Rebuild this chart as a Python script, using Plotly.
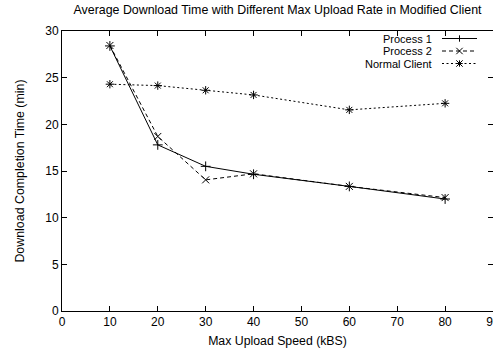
import plotly.graph_objects as go

speeds = [10, 20, 30, 40, 60, 80]
process1 = [28.4, 17.8, 15.5, 14.65, 13.35, 12.0]
process2 = [28.45, 18.7, 14.05, 14.7, 13.35, 12.15]
normal_client = [24.3, 24.15, 23.65, 23.15, 21.55, 22.25]
series_names = ["Process 1", "Process 2", "Normal Client"]

FONT = "Liberation Sans, Arial, Helvetica, sans-serif"
W, H = 493, 354
ML, MR, MT, MB = 62, 0, 31, 43
PW, PH = W - ML - MR, H - MT - MB

dashes = ["solid", "4px,3px", "2px,2.5px"]
symbols = ["cross-thin", "x-thin", "asterisk"]

fig = go.Figure()
for name, ys, dash, sym in zip(series_names, [process1, process2, normal_client], dashes, symbols):
    fig.add_trace(go.Scatter(x=speeds, y=ys, name=name, mode="lines+markers", showlegend=False,
                             line=dict(color="black", width=1, dash=dash),
                             marker=dict(symbol=sym, size=7, line=dict(color="black", width=1))))

# gnuplot-style key: right-aligned text, sample to the right
def px(x):
    return (x - ML) / PW

def py(y):
    return (H - MB - y) / PH

shapes = []
annotations = []
key_rows = [38.5, 51.0, 63.5]
text_right, s0, s1, mc = 434, 442, 477, 459.5
r = 3.2
for i, (name, dash, sym) in enumerate(zip(series_names, dashes, symbols)):
    yy = key_rows[i]
    annotations.append(dict(text=name, x=px(text_right), y=py(yy), xref="paper", yref="paper",
                            xanchor="right", yanchor="middle", showarrow=False,
                            font=dict(family=FONT, size=11, color="black")))
    shapes.append(dict(type="line", xref="paper", yref="paper", x0=px(s0), x1=px(s1), y0=py(yy), y1=py(yy),
                       line=dict(color="black", width=1, dash=dash)))
    segs = []
    if sym in ("cross-thin", "asterisk"):
        segs += [(mc - r, yy, mc + r, yy), (mc, yy - r, mc, yy + r)]
    if sym in ("x-thin", "asterisk"):
        segs += [(mc - r, yy - r, mc + r, yy + r), (mc - r, yy + r, mc + r, yy - r)]
    for (a, b, c, d) in segs:
        shapes.append(dict(type="line", xref="paper", yref="paper", x0=px(a), y0=py(b), x1=px(c), y1=py(d),
                           line=dict(color="black", width=1)))

axis_common = dict(showline=True, linecolor="black", linewidth=1, mirror="ticks",
                   ticks="inside", ticklen=5, tickcolor="black", showgrid=False, zeroline=False,
                   automargin=False,
                   tickfont=dict(family=FONT, size=12, color="black"))

fig.update_layout(
    width=W, height=H,
    margin=dict(l=ML, r=MR, t=MT, b=MB),
    paper_bgcolor="white", plot_bgcolor="white",
    title=dict(text="Average Download Time with Different Max Upload Rate in Modified Client",
               x=(ML + PW / 2) / W, xanchor="center", y=0.985, yanchor="top",
               font=dict(family=FONT, size=12.4, color="black")),
    xaxis=dict(range=[0, 90], dtick=10, ticklabeloverflow="allow",
               title=dict(text="Max Upload Speed (kBS)", font=dict(family=FONT, size=12.3, color="black"), standoff=7),
               **axis_common),
    yaxis=dict(range=[0, 30], dtick=5,
               title=dict(text="Download Completion Time (min)", font=dict(family=FONT, size=12.4, color="black"), standoff=17),
               **axis_common),
    shapes=shapes,
    annotations=annotations,
    showlegend=False,
)

fig.write_html("out.html")
